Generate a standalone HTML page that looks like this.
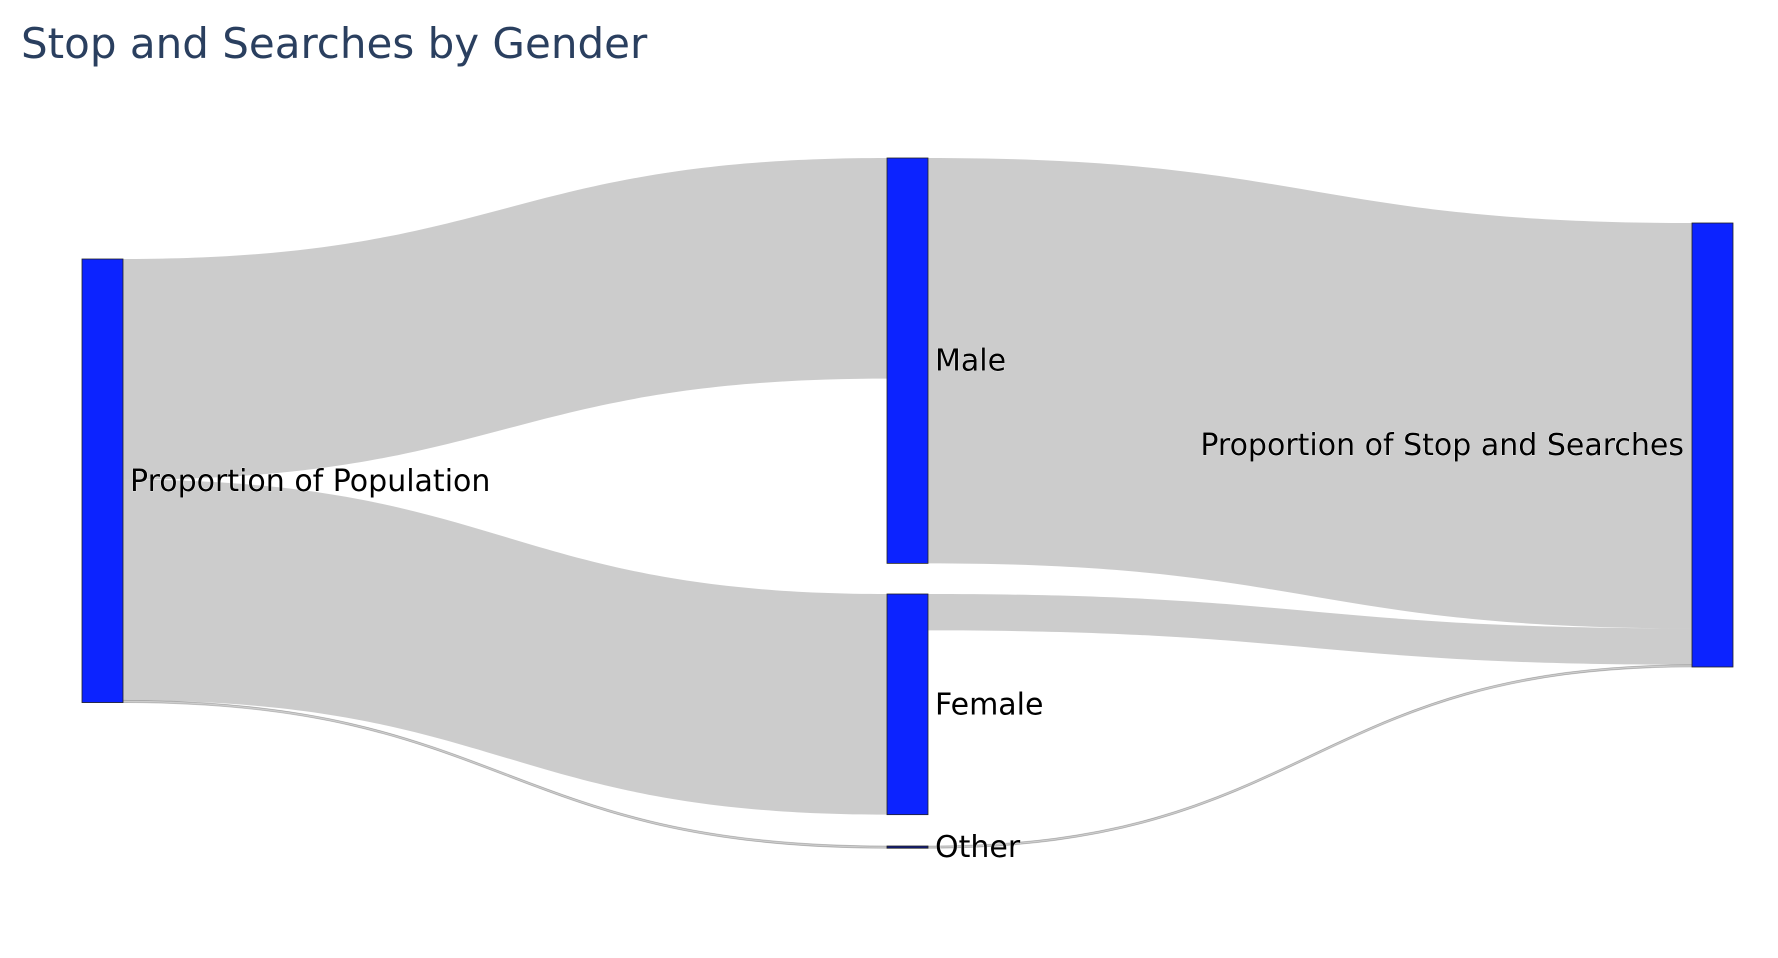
<!DOCTYPE html>
<html><head><meta charset="utf-8"><style>
html,body{margin:0;padding:0;background:#fff;}
svg{display:block;font-family:"DejaVu Sans","Liberation Sans",sans-serif;}
</style></head><body>
<svg id="chart" width="1778" height="958" viewBox="0 0 1778 958">
<text x="21" y="58" font-size="42" fill="#2a3f5f">Stop and Searches by Gender</text>
<g id="links"></g>
<g id="nodes"></g>
</svg>
<script>
const nodeNames = ["Proportion of Population","Male","Female","Other","Proportion of Stop and Searches"];
const linkSources = [0,0,0,1,2,3];
const linkTargets = [1,2,3,4,4,4];
const linkValues = [49.7,49.7,0.5,91.3,8.2,0.5];

const NS="http://www.w3.org/2000/svg";
const ky=4.44;
const colX=[82,887,887,887,1692];
const nodeTop=[259,158,594,846,223];
const nodeW=41;
const inSum=nodeNames.map(()=>0), outSum=nodeNames.map(()=>0);
linkValues.forEach((v,i)=>{outSum[linkSources[i]]+=v;inSum[linkTargets[i]]+=v;});
const nodeH=nodeNames.map((n,i)=>Math.max(inSum[i],outSum[i])*ky);
const outOff=nodeNames.map(()=>0), inOff=nodeNames.map(()=>0);
const lg=document.getElementById('links');
linkValues.forEach((v,i)=>{
  const s=linkSources[i], t=linkTargets[i];
  const h=v*ky;
  const y0=nodeTop[s]+outOff[s], y1=nodeTop[t]+inOff[t];
  outOff[s]+=h; inOff[t]+=h;
  const x0=colX[s]+nodeW, x1=colX[t], xm=(x0+x1)/2;
  const p=document.createElementNS(NS,'path');
  p.setAttribute('d',`M${x0},${y0}C${xm},${y0} ${xm},${y1} ${x1},${y1}L${x1},${y1+h}C${xm},${y1+h} ${xm},${y0+h} ${x0},${y0+h}Z`);
  p.setAttribute('fill','rgba(0,0,0,0.2)');
  p.setAttribute('stroke', h<4?'rgba(0,0,0,0.22)':'none');
  p.setAttribute('stroke-width','0.8');
  
  
  lg.appendChild(p);
});
const ng=document.getElementById('nodes');
const labelCfg=[{dx:48,anchor:'start'},{dx:48,anchor:'start'},{dx:48,anchor:'start'},{dx:48,anchor:'start'},{dx:-8,anchor:'end'}];
nodeNames.forEach((n,i)=>{
  const r=document.createElementNS(NS,'rect');
  r.setAttribute('x',colX[i]);r.setAttribute('y',nodeTop[i]);
  r.setAttribute('width',nodeW);r.setAttribute('height',Math.max(nodeH[i],1.5));
  r.setAttribute('fill',nodeH[i]<4?'#101a7a':'#0c23ff');
  r.setAttribute('stroke','#222');r.setAttribute('stroke-width','0.8');
  
  
  ng.appendChild(r);
  const tx=document.createElementNS(NS,'text');
  tx.setAttribute('x',colX[i]+labelCfg[i].dx);
  tx.setAttribute('y',nodeTop[i]+nodeH[i]/2+10);
  tx.setAttribute('text-anchor',labelCfg[i].anchor);
  tx.setAttribute('font-size','30');tx.setAttribute('fill','#000');
  tx.setAttribute('stroke','#fff');tx.setAttribute('stroke-width','0.6');tx.setAttribute('paint-order','stroke');
  tx.textContent=n;
  
  
  ng.appendChild(tx);
});
</script>
</body></html>
